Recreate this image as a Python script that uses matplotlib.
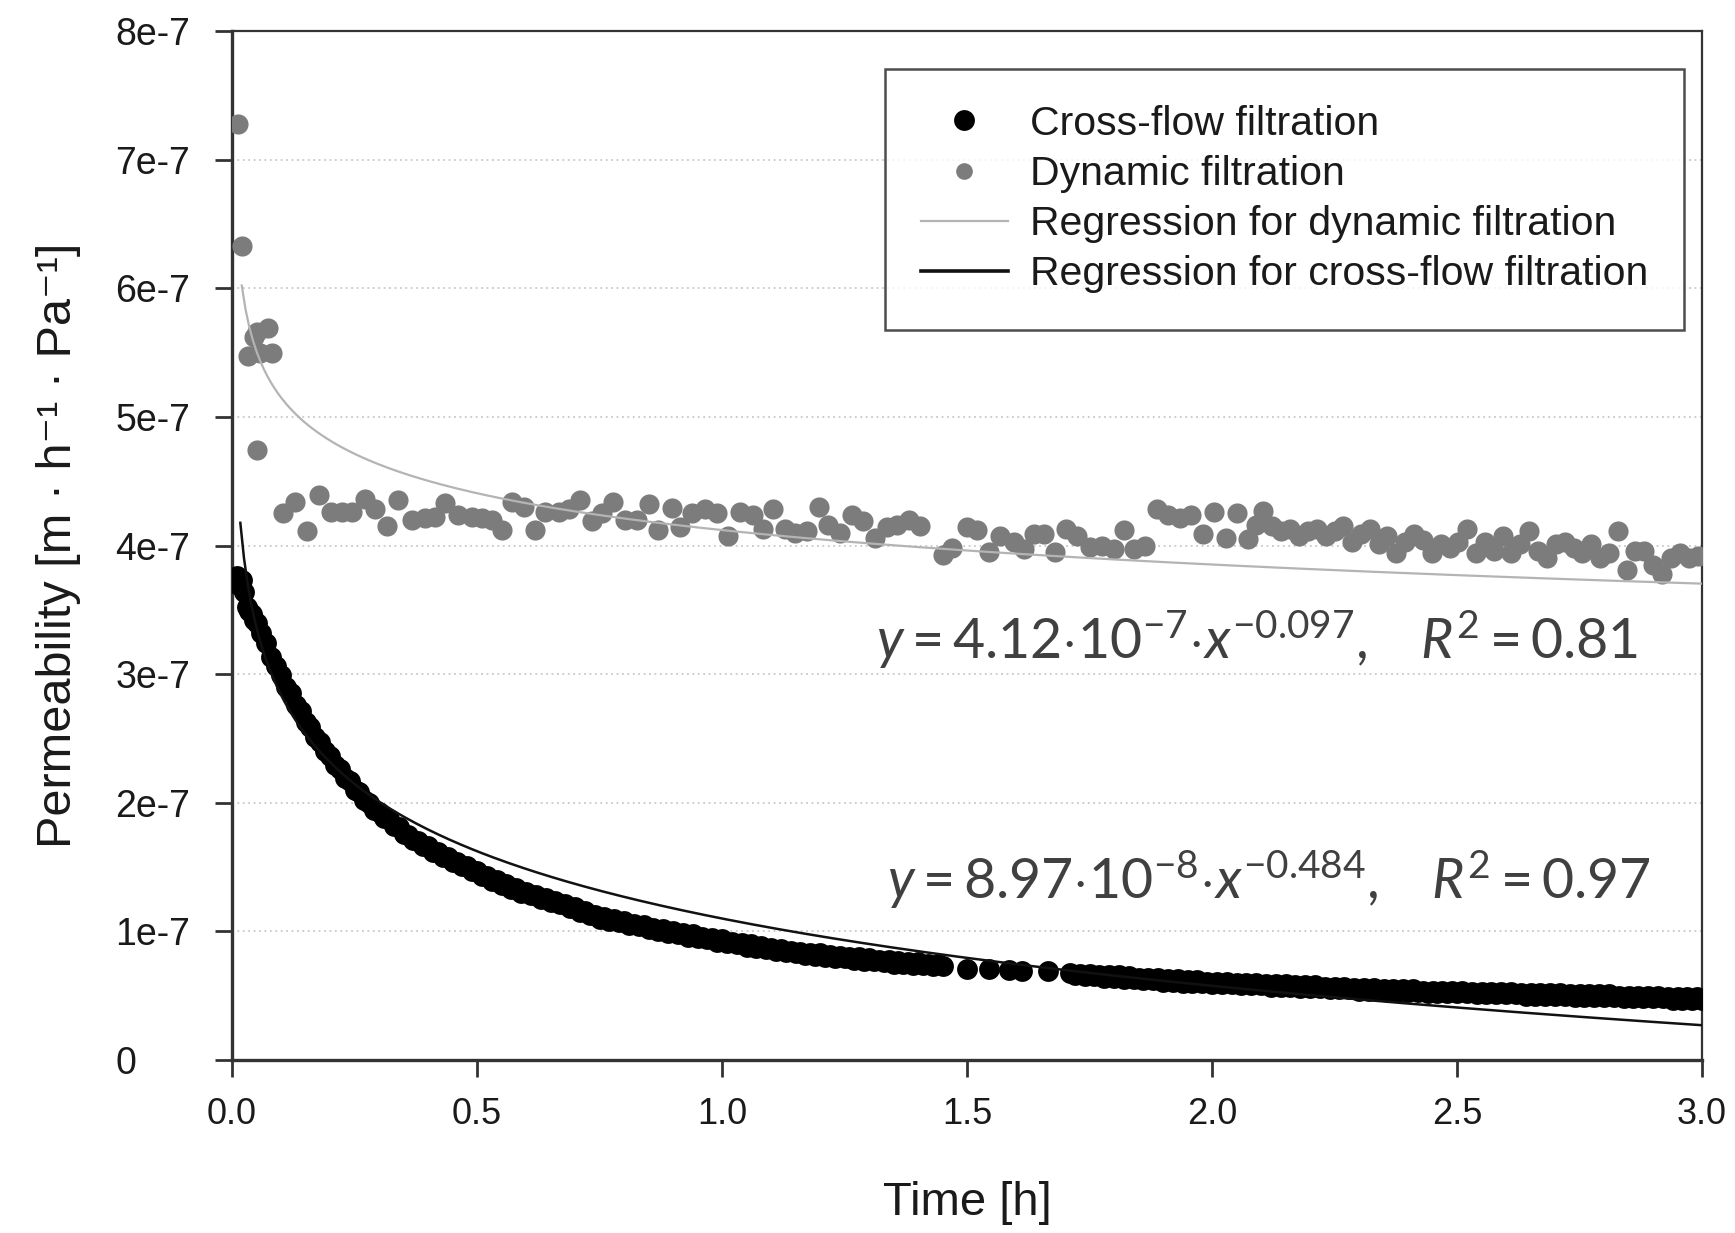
import numpy as np
import matplotlib
matplotlib.use("Agg")
import matplotlib.pyplot as plt

plt.rcParams["font.family"] = ["Liberation Sans", "DejaVu Sans"]
plt.rcParams["mathtext.fontset"] = "custom"
plt.rcParams["mathtext.rm"] = "Lato"
plt.rcParams["mathtext.it"] = "Lato:italic"

# ---- dynamic filtration (grey dots), permeability in 1e-7 m/(h Pa) ----
dyn_t = [0.013, 0.020, 0.033, 0.045, 0.050, 0.052, 0.057, 0.074, 0.081,
         0.105, 0.129, 0.154, 0.178, 0.203, 0.224, 0.244, 0.271, 0.292, 0.316,
         0.339, 0.367, 0.394, 0.414, 0.435, 0.462, 0.490, 0.510, 0.530, 0.550,
         0.571, 0.595, 0.618, 0.639, 0.667, 0.687, 0.710, 0.734, 0.755, 0.778,
         0.802, 0.826, 0.850, 0.870, 0.898, 0.915, 0.939, 0.966, 0.990, 1.013,
         1.037, 1.064, 1.084, 1.105, 1.128, 1.149, 1.173, 1.197, 1.217, 1.241,
         1.265, 1.288, 1.312, 1.336, 1.357, 1.381, 1.405, 1.452, 1.469, 1.499,
         1.520, 1.544, 1.568, 1.595, 1.616, 1.636, 1.657, 1.680, 1.703, 1.724,
         1.751, 1.775, 1.799, 1.820, 1.840, 1.864, 1.887, 1.910, 1.934, 1.958,
         1.981, 2.005, 2.029, 2.050, 2.074, 2.090, 2.105, 2.123, 2.141, 2.159,
         2.178, 2.196, 2.214, 2.232, 2.250, 2.268, 2.286, 2.304, 2.322, 2.340,
         2.358, 2.376, 2.394, 2.412, 2.430, 2.449, 2.467, 2.485, 2.503, 2.521,
         2.539, 2.557, 2.575, 2.593, 2.611, 2.629, 2.647, 2.665, 2.684, 2.702,
         2.720, 2.738, 2.756, 2.774, 2.792, 2.810, 2.828, 2.846, 2.864, 2.882,
         2.900, 2.918, 2.937, 2.955, 2.973, 2.991]
dyn_p = [7.28, 6.33, 5.47, 5.62, 4.74, 5.66, 5.50, 5.69, 5.50,
         4.25, 4.34, 4.11, 4.39, 4.26, 4.26, 4.26, 4.36, 4.28, 4.15,
         4.35, 4.20, 4.21, 4.22, 4.33, 4.24, 4.22, 4.21, 4.20, 4.12,
         4.34, 4.30, 4.12, 4.26, 4.26, 4.28, 4.35, 4.19, 4.25, 4.34,
         4.20, 4.20, 4.32, 4.12, 4.29, 4.14, 4.25, 4.28, 4.25, 4.07,
         4.26, 4.24, 4.13, 4.28, 4.13, 4.10, 4.11, 4.30, 4.16, 4.10,
         4.24, 4.19, 4.06, 4.14, 4.16, 4.20, 4.15, 3.93, 3.98, 4.14,
         4.12, 3.95, 4.07, 4.03, 3.97, 4.09, 4.09, 3.95, 4.13, 4.07,
         3.99, 4.00, 3.97, 4.12, 3.97, 4.00, 4.28, 4.24, 4.21, 4.24,
         4.09, 4.26, 4.06, 4.25, 4.05, 4.16, 4.27, 4.15, 4.11, 4.13,
         4.07, 4.11, 4.13, 4.07, 4.11, 4.15, 4.03, 4.09, 4.13, 4.01,
         4.07, 3.94, 4.03, 4.09, 4.04, 3.94, 4.01, 3.98, 4.03, 4.13,
         3.94, 4.03, 3.96, 4.07, 3.94, 4.01, 4.11, 3.96, 3.90, 4.01,
         4.03, 3.98, 3.94, 4.01, 3.90, 3.94, 4.11, 3.81, 3.96, 3.96,
         3.85, 3.78, 3.90, 3.94, 3.90, 3.92]

# ---- cross-flow filtration (black dots) ----
cross_t = [0.000, 0.005, 0.010, 0.015, 0.020, 0.025, 0.030, 0.035, 0.040, 0.045, 0.050,
           0.06, 0.07, 0.08, 0.09, 0.10, 0.11, 0.12, 0.13, 0.14, 0.15,
           0.16, 0.17, 0.18, 0.19, 0.20, 0.21, 0.22, 0.23, 0.24, 0.25,
           0.26, 0.27, 0.28, 0.29, 0.30, 0.31, 0.32, 0.33, 0.34, 0.35,
           0.36, 0.37, 0.38, 0.39, 0.40, 0.41, 0.42, 0.43, 0.44, 0.45,
           0.46, 0.47, 0.48, 0.49, 0.50, 0.51, 0.52, 0.53, 0.54, 0.55,
           0.56, 0.57, 0.58, 0.59, 0.60, 0.61, 0.62, 0.63, 0.64, 0.65,
           0.66, 0.67, 0.68, 0.69, 0.70, 0.71, 0.72, 0.73, 0.74, 0.75,
           0.76, 0.77, 0.78, 0.79, 0.80, 0.81, 0.82, 0.83, 0.84, 0.85,
           0.86, 0.87, 0.88, 0.89, 0.90, 0.91, 0.92, 0.93, 0.94, 0.95,
           0.96, 0.97, 0.98, 0.99, 1.00, 1.01, 1.02, 1.03, 1.04, 1.05,
           1.06, 1.07, 1.08, 1.09, 1.10, 1.11, 1.12, 1.13, 1.14, 1.15,
           1.16, 1.17, 1.18, 1.19, 1.20, 1.21, 1.22, 1.23, 1.24, 1.25,
           1.26, 1.27, 1.28, 1.29, 1.30, 1.31, 1.32, 1.33, 1.34, 1.35,
           1.36, 1.37, 1.38, 1.39, 1.40, 1.41, 1.42, 1.43, 1.44, 1.45,
           1.500, 1.545, 1.585, 1.612, 1.666,
           1.71, 1.72, 1.73, 1.74, 1.75, 1.76, 1.77, 1.78, 1.79, 1.80,
           1.81, 1.82, 1.83, 1.84, 1.85, 1.86, 1.87, 1.88, 1.89, 1.90,
           1.91, 1.92, 1.93, 1.94, 1.95, 1.96, 1.97, 1.98, 1.99, 2.00,
           2.01, 2.02, 2.03, 2.04, 2.05, 2.06, 2.07, 2.08, 2.09, 2.10,
           2.11, 2.12, 2.13, 2.14, 2.15, 2.16, 2.17, 2.18, 2.19, 2.20,
           2.21, 2.22, 2.23, 2.24, 2.25, 2.26, 2.27, 2.28, 2.29, 2.30,
           2.31, 2.32, 2.33, 2.34, 2.35, 2.36, 2.37, 2.38, 2.39, 2.40,
           2.41, 2.42, 2.43, 2.44, 2.45, 2.46, 2.47, 2.48, 2.49, 2.50,
           2.51, 2.52, 2.53, 2.54, 2.55, 2.56, 2.57, 2.58, 2.59, 2.60,
           2.61, 2.62, 2.63, 2.64, 2.65, 2.66, 2.67, 2.68, 2.69, 2.70,
           2.71, 2.72, 2.73, 2.74, 2.75, 2.76, 2.77, 2.78, 2.79, 2.80,
           2.81, 2.82, 2.83, 2.84, 2.85, 2.86, 2.87, 2.88, 2.89, 2.90,
           2.91, 2.92, 2.93, 2.94, 2.95, 2.96, 2.97, 2.98, 2.99, 3.00]
cross_p = [3.74, 3.71, 3.76, 3.69, 3.73, 3.64, 3.52, 3.49, 3.47, 3.42, 3.40,
           3.32, 3.24, 3.13, 3.06, 2.99, 2.90, 2.85, 2.76, 2.71, 2.63,
           2.59, 2.51, 2.47, 2.40, 2.36, 2.29, 2.26, 2.19, 2.17, 2.10,
           2.08, 2.02, 2.00, 1.94, 1.93, 1.88, 1.87, 1.82, 1.81, 1.76,
           1.75, 1.71, 1.70, 1.66, 1.66, 1.62, 1.62, 1.58, 1.58, 1.54,
           1.54, 1.51, 1.51, 1.47, 1.47, 1.43, 1.43, 1.39, 1.40, 1.36,
           1.37, 1.33, 1.34, 1.30, 1.31, 1.28, 1.28, 1.25, 1.26, 1.23,
           1.24, 1.21, 1.21, 1.18, 1.19, 1.15, 1.16, 1.13, 1.13, 1.10,
           1.11, 1.08, 1.10, 1.07, 1.08, 1.05, 1.06, 1.04, 1.05, 1.02,
           1.03, 1.00, 1.02, 0.99, 1.00, 0.98, 0.99, 0.96, 0.98, 0.95,
           0.96, 0.94, 0.95, 0.92, 0.94, 0.91, 0.92, 0.90, 0.91, 0.88,
           0.90, 0.87, 0.89, 0.86, 0.87, 0.85, 0.86, 0.84, 0.85, 0.83,
           0.84, 0.82, 0.83, 0.81, 0.83, 0.80, 0.82, 0.79, 0.81, 0.79,
           0.80, 0.78, 0.80, 0.77, 0.79, 0.77, 0.78, 0.76, 0.78, 0.75,
           0.77, 0.75, 0.76, 0.74, 0.76, 0.74, 0.75, 0.73, 0.75, 0.73,
           0.71, 0.71, 0.70, 0.69, 0.69,
           0.68, 0.66, 0.67, 0.65, 0.67, 0.65, 0.66, 0.64, 0.66, 0.64,
           0.66, 0.63, 0.65, 0.63, 0.64, 0.62, 0.64, 0.62, 0.64, 0.61,
           0.63, 0.61, 0.63, 0.60, 0.62, 0.60, 0.62, 0.60, 0.61, 0.59,
           0.61, 0.59, 0.61, 0.59, 0.60, 0.58, 0.60, 0.58, 0.60, 0.58,
           0.59, 0.57, 0.59, 0.57, 0.59, 0.57, 0.58, 0.56, 0.58, 0.56,
           0.58, 0.56, 0.57, 0.55, 0.57, 0.55, 0.57, 0.55, 0.56, 0.54,
           0.56, 0.54, 0.56, 0.54, 0.55, 0.53, 0.55, 0.53, 0.55, 0.53,
           0.55, 0.53, 0.54, 0.52, 0.54, 0.52, 0.54, 0.52, 0.54, 0.52,
           0.54, 0.52, 0.53, 0.51, 0.53, 0.51, 0.53, 0.51, 0.53, 0.51,
           0.53, 0.51, 0.52, 0.50, 0.52, 0.50, 0.52, 0.50, 0.52, 0.50,
           0.52, 0.50, 0.51, 0.49, 0.51, 0.49, 0.51, 0.49, 0.51, 0.49,
           0.51, 0.49, 0.50, 0.48, 0.50, 0.48, 0.50, 0.48, 0.50, 0.48,
           0.50, 0.48, 0.49, 0.47, 0.49, 0.47, 0.49, 0.47, 0.49, 0.47]

# regression curves as drawn in the figure
dyn_fit = (4.12e-7, -0.097, 0.020)          # a * t**b, from t0
cross_fit = (1.10e-7, -0.755e-7, 0.017)     # a + b*ln(t), from t0

x_ticks = [0.0, 0.5, 1.0, 1.5, 2.0, 2.5, 3.0]
x_labels = ["0.0", "0.5", "1.0", "1.5", "2.0", "2.5", "3.0"]
y_ticks = [0, 1e-7, 2e-7, 3e-7, 4e-7, 5e-7, 6e-7, 7e-7, 8e-7]
y_labels = ["0", "1e-7", "2e-7", "3e-7", "4e-7", "5e-7", "6e-7", "7e-7", "8e-7"]

eq_dyn = r"$y = 4.12{\cdot}10^{-7}{\cdot}x^{-0.097},\quad R^2 = 0.81$"
eq_cross = r"$y = 8.97{\cdot}10^{-8}{\cdot}x^{-0.484},\quad R^2 = 0.97$"

fig = plt.figure(figsize=(17.35, 12.33), dpi=100)
ax = fig.add_axes([232/1735, 1-1060/1233, 1470/1735, 1029/1233])

ax.plot(cross_t, np.array(cross_p)*1e-7, "o", color="black", ms=15, mew=0,
        label="Cross-flow filtration", zorder=3)
ax.plot(dyn_t, np.array(dyn_p)*1e-7, "o", color="#7c7c7c", ms=14.5, mew=0,
        label="Dynamic filtration", zorder=3)

t = np.linspace(dyn_fit[2], 3.0, 400)
ax.plot(t, dyn_fit[0]*t**dyn_fit[1], color="#b4b4b4", lw=1.6,
        label="Regression for dynamic filtration", zorder=4)
t = np.linspace(cross_fit[2], 3.0, 400)
ax.plot(t, cross_fit[0] + cross_fit[1]*np.log(t), color="#111111", lw=1.8,
        label="Regression for cross-flow filtration", zorder=4)

ax.set_xlim(0, 3.0)
ax.set_ylim(0, 8e-7)
ax.set_xticks(x_ticks)
ax.set_xticklabels(x_labels)
ax.set_yticks(y_ticks)
ax.set_yticklabels(y_labels)
for yv in y_ticks[1:-1]:
    ax.axhline(yv, color="#c8c8c8", lw=1.3, ls=(0, (1, 2)), zorder=1)

ax.tick_params(axis="both", direction="out", length=12, width=2,
               color="#333333", labelcolor="#1a1a1a")
ax.tick_params(axis="x", pad=15, labelsize=26)
ax.tick_params(axis="y", pad=72, labelsize=27)
for lab in ax.get_yticklabels():
    lab.set_horizontalalignment("left")
for s in ax.spines.values():
    s.set_linewidth(1.6)
    s.set_color("#333333")
ax.spines["left"].set_linewidth(2.4)
ax.spines["bottom"].set_linewidth(2.4)

ax.set_xlabel("Time [h]", fontsize=34, color="#1a1a1a")
ax.xaxis.set_label_coords(0.5, -0.118)
ax.set_ylabel("Permeability [m · h⁻¹ · Pa⁻¹]", fontsize=35, color="#1a1a1a")
ax.yaxis.set_label_coords(-0.103, 0.5)

ax.text(2.87, 3.27e-7, eq_dyn, fontsize=40, color="#404040", ha="right", va="center")
ax.text(2.896, 1.40e-7, eq_cross, fontsize=40, color="#404040", ha="right", va="center")

leg = ax.legend(loc="upper right", bbox_to_anchor=(0.988, 0.9635), borderaxespad=0,
                fontsize=29.5, frameon=True, fancybox=False, edgecolor="#222222",
                numpoints=1, handlelength=2.1, handletextpad=0.55, labelspacing=0.3,
                borderpad=0.88, markerscale=1.0)
leg.get_frame().set_linewidth(1.8)
for txt in leg.get_texts():
    txt.set_color("#1a1a1a")
leg.get_lines()[1].set_markersize(12)
leg.get_lines()[3].set_linewidth(2.6)

fig.savefig("out.png", dpi=100)
